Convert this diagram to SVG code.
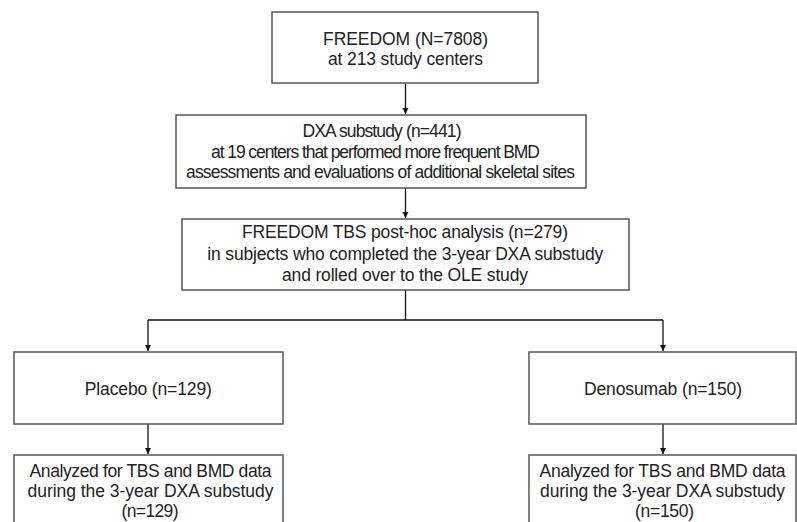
<svg xmlns="http://www.w3.org/2000/svg" width="797" height="522" viewBox="0 0 797 522">
<style>
.box{fill:#fff;stroke:#555;stroke-width:1.5}
.t{font-family:"Liberation Sans",Arial,sans-serif;font-size:17.5px;fill:#222;text-anchor:middle}
.c{fill:none;stroke:#111;stroke-width:1.3}
</style>
<defs>
<marker id="ah" markerWidth="8" markerHeight="8" refX="7" refY="4" orient="auto" markerUnits="userSpaceOnUse">
<path d="M1,1 L7,4 L1,7 Z" fill="#111"/>
</marker>
</defs>
<rect width="797" height="522" fill="#fff"/>
<g id="connectors">
<line class="c" x1="405.5" y1="84" x2="405.5" y2="114" marker-end="url(#ah)"/>
<line class="c" x1="405.5" y1="188" x2="405.5" y2="218" marker-end="url(#ah)"/>
<polyline class="c" points="405.5,290 405.5,320"/>
<polyline class="c" points="148,320 663,320"/>
<line class="c" x1="148" y1="320" x2="148" y2="351" marker-end="url(#ah)"/>
<line class="c" x1="663" y1="320" x2="663" y2="351" marker-end="url(#ah)"/>
<line class="c" x1="148" y1="424" x2="148" y2="454" marker-end="url(#ah)"/>
<line class="c" x1="663" y1="424" x2="663" y2="454" marker-end="url(#ah)"/>
</g>
<g id="freedom">
<rect class="box" x="272" y="12" width="266" height="71"/>
<text class="t" x="405.5" y="45" textLength="165" lengthAdjust="spacing">FREEDOM (N=7808)</text>
<text class="t" x="405.5" y="65" textLength="155" lengthAdjust="spacing">at 213 study centers</text>
</g>
<g id="dxa">
<rect class="box" x="176" y="115" width="410" height="73"/>
<text class="t" x="382" y="137" textLength="159" lengthAdjust="spacing">DXA substudy (n=441)</text>
<text class="t" x="375.5" y="158" textLength="329" lengthAdjust="spacing">at 19 centers that performed more frequent BMD</text>
<text class="t" x="380.5" y="178" textLength="389" lengthAdjust="spacing">assessments and evaluations of additional skeletal sites</text>
</g>
<g id="tbs">
<rect class="box" x="182" y="219" width="447" height="71"/>
<text class="t" x="405" y="238" textLength="326" lengthAdjust="spacing">FREEDOM TBS post-hoc analysis (n=279)</text>
<text class="t" x="405.3" y="260" textLength="396" lengthAdjust="spacing">in subjects who completed the 3-year DXA substudy</text>
<text class="t" x="405" y="281" textLength="246" lengthAdjust="spacing">and rolled over to the OLE study</text>
</g>
<g id="placebo">
<rect class="box" x="14" y="352" width="269" height="72"/>
<text class="t" x="148.3" y="395" textLength="127" lengthAdjust="spacing">Placebo (n=129)</text>
</g>
<g id="denosumab">
<rect class="box" x="529" y="352" width="267" height="72"/>
<text class="t" x="663" y="395" textLength="158" lengthAdjust="spacing">Denosumab (n=150)</text>
</g>
<g id="placebo-analyzed">
<rect class="box" x="14" y="455" width="269" height="80"/>
<text class="t" x="150.5" y="477" textLength="242" lengthAdjust="spacing">Analyzed for TBS and BMD data</text>
<text class="t" x="150.5" y="497" textLength="246" lengthAdjust="spacing">during the 3-year DXA substudy</text>
<text class="t" x="150" y="517" textLength="57" lengthAdjust="spacing">(n=129)</text>
</g>
<g id="denosumab-analyzed">
<rect class="box" x="529" y="455" width="267" height="80"/>
<text class="t" x="662.5" y="477" textLength="246" lengthAdjust="spacing">Analyzed for TBS and BMD data</text>
<text class="t" x="662.5" y="497" textLength="245" lengthAdjust="spacing">during the 3-year DXA substudy</text>
<text class="t" x="664.5" y="517" textLength="59" lengthAdjust="spacing">(n=150)</text>
</g>
</svg>
